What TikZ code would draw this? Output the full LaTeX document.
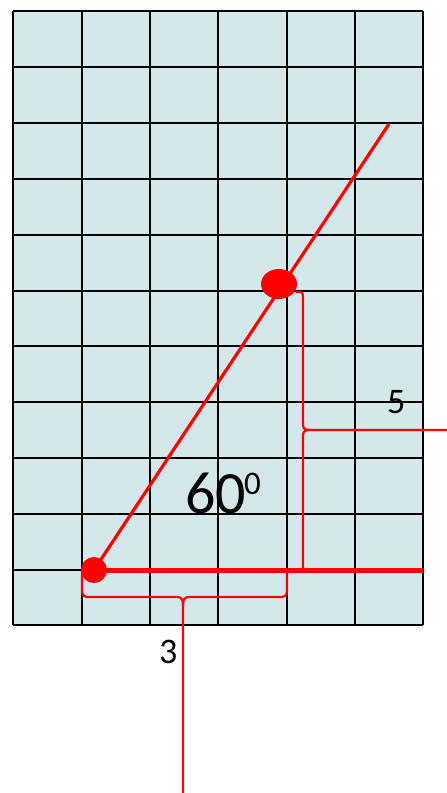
\documentclass[tikz,border=0pt]{standalone}
\usepackage{fontspec}
\setmainfont{Carlito}
\usetikzlibrary{positioning,calc,shapes.geometric}
\definecolor{cellblue}{RGB}{212,232,235}
\definecolor{redline}{RGB}{255,0,0}

\begin{document}
\begin{tikzpicture}[
x=1pt, y=-1pt,
    gridline/.style={line width=1.6pt, black},
    dot/.style={
        ellipse,
        fill=redline,
        inner sep=0pt,
        minimum width=26pt,
        minimum height=26pt
    },
    bracket/.style={redline, line width=2.2pt},
    label/.style={anchor=base west, inner sep=0pt, font=\fontsize{36}{40}\selectfont}
]
\useasboundingbox (0,0) rectangle (447,793);

% The blue grid, 6 columns and 11 rows
\fill[cellblue] (13,11) rectangle (423,625);
\foreach \x in {13,82,150,218,287,355,423}
    \draw[gridline] (\x,11) -- (\x,625);
\foreach \y in {11,67,123,179,235,291,346,402,458,514,570,625}
    \draw[gridline] (13,\y) -- (423,\y);

% The two points and the line through them
\node[dot] (low) at (94,570) {};
\node[dot, minimum width=36pt, minimum height=30pt] (high) at (279,284) {};
\coordinate (tip) at (389,124);
\coordinate (base) at (423,570);
\draw[redline, line width=3.2pt] (low.center) -- (tip);
\draw[redline, line width=5pt] (low.center) -- (base);

% The bracket for the rise
\coordinate (rtop) at (296,292);
\coordinate (rbot) at (303,570);
\coordinate (rend) at (447,430);
\draw[bracket] (rtop) -- (300,292) .. controls (302,292) and (303,293) .. (303,296)
    -- (303,424) .. controls (303,429) and (305,430) .. (310,430) -- (rend);
\draw[bracket] (rbot) -- (303,436) .. controls (303,431) and (305,430) .. (310,430);

% The bracket for the run
\coordinate (bleft) at (82,570);
\coordinate (bright) at (287,570);
\coordinate (bend) at (183,793);
\draw[bracket] (bleft) -- (82,592) .. controls (82,595) and (84,597) .. (87,597)
    -- (177,597) .. controls (181,597) and (183,599) .. (183,605) -- (bend);
\draw[bracket] (bright) -- (287,592) .. controls (287,595) and (285,597) .. (282,597)
    -- (189,597) .. controls (185,597) and (183,599) .. (183,605);

% Labels
\node[label] (run) at (159,663) {3};
\node[label] (rise) at (387,413) {5};
\node[label, font=\fontsize{60}{64}\selectfont] (angle) at (185,513)
    {60\kern-2pt\raisebox{19pt}{\fontsize{33}{36}\selectfont 0}};
\end{tikzpicture}
\end{document}
